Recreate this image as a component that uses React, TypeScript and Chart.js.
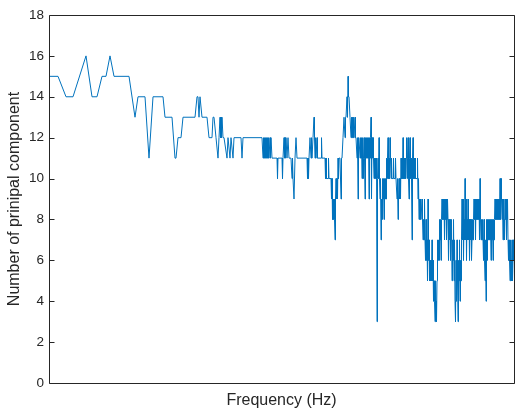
import React, { useEffect, useRef } from "react";
import { Chart, registerables } from "chart.js";

Chart.register(...registerables);

// ---- data (frequency position in arbitrary bin units, count of principal components) ----
const bandAFreq = [
  0, 9, 17, 24, 37, 43, 48, 53, 57, 61,
  65, 80, 86, 89, 96, 100, 104, 114, 116, 123,
  126, 127, 129, 132, 134, 146, 148, 149, 150, 151,
  153, 158, 160, 163, 164, 165, 167, 169, 170, 171,
  171.5, 172, 172.5, 173, 174, 175, 178, 179, 181, 182,
  184, 185, 192, 193, 194, 213,
];
const bandACount = [
  15, 15, 14, 14, 16, 14, 14, 15, 15, 16,
  15, 15, 13, 14, 14, 11, 14, 14, 13, 13,
  11, 11, 12, 12, 13, 13, 14, 14, 13, 14,
  13, 13, 12, 12, 13, 13, 12, 11, 12, 13,
  12, 13, 12, 13, 12, 12, 11, 12, 11, 12,
  11, 12, 12, 11, 12, 12,
];

const bandBFreq = [
  214, 214.5, 215, 215.5, 216, 216.5, 217, 217.5, 218, 218.5,
  219, 219.5, 220, 221, 221.5, 222, 223, 228, 228.5, 229,
  233, 233.5, 234, 235, 235.5, 236, 236.5, 237, 238, 239, 240,
];
const bandBCount = [
  11, 12, 11, 12, 11, 12, 11, 12, 11, 12,
  11, 12, 11, 12, 11, 12, 11, 11, 10, 11,
  11, 10, 11, 12, 11, 12, 11, 12, 11, 12, 11,
];

const bandCFreq = [
  242, 243, 243.5, 244, 245, 246, 247, 248, 258, 258.5,
  259, 259.5, 260, 261, 262, 262.5, 263, 264, 265, 265.5,
  266, 266.5, 267, 268, 268.5, 272, 272.5, 273, 276, 276.5,
  277, 277.5, 279, 279.5, 280, 282, 282.5, 283, 283.5, 284,
  284.5, 285, 285.5, 286, 286.5, 287, 287.5, 288, 288.5, 289,
  289.5, 290, 291, 292, 292.5, 293, 294, 295, 296, 296.5,
  297, 298, 298.5, 299, 299.5, 300, 301, 302, 302.5, 303,
  303.5, 304, 304.5, 305, 306, 306.5, 307, 308, 308.5, 309,
  309.5, 310,
];
const bandCCount = [
  11, 10, 11, 10, 9, 11, 12, 11, 11, 10,
  11, 10, 11, 12, 11, 12, 11, 12, 13, 12,
  11, 12, 11, 12, 11, 11, 12, 11, 11, 10,
  11, 10, 10, 11, 10, 10, 9, 10, 8, 9,
  8, 9, 8, 7, 9, 10, 9, 10, 9, 11,
  10, 11, 11, 9, 11, 11, 12, 13, 12, 13,
  13, 14, 13, 15, 14, 14, 13, 12, 13, 12,
  13, 12, 13, 12, 13, 12, 12, 11, 12, 9,
  12, 12,
];

const bandDFreq = [
  311, 311.5, 312, 312.5, 313, 313.5, 314, 314.5, 315, 315.5,
  316, 316.5, 317, 317.5, 318, 318.5, 319, 319.5, 320, 320.5,
  321, 321.5, 322, 322.5, 323, 323.5, 324, 324.5, 325, 325.5,
  326, 326.5, 327, 327.5, 328, 328.5, 329, 329.5, 330, 330.5,
  331, 331.5, 332, 332.5, 333, 333.5, 334, 334.5, 335, 335.5,
  336, 336.5, 337, 337.5, 338, 338.5, 339, 339.5, 340, 340.5,
  341, 341.5, 342, 342.5, 343, 344, 344.5, 345, 346, 346.5,
  347, 348, 348.5, 349, 349.5, 350, 350.5, 351, 351.5, 352,
  352.5, 353, 353.5, 354, 354.5, 355, 355.5, 356, 356.5, 357,
  357.5, 358, 358.5, 359, 359.5, 360, 360.5, 361, 361.5, 362,
  362.5, 363, 363.5, 364, 364.5, 365, 365.5, 366,
];
const bandDCount = [
  11, 12, 11, 12, 10, 12, 10, 11, 12, 11,
  9, 12, 11, 12, 11, 12, 11, 12, 9, 12,
  11, 12, 13, 9, 12, 11, 12, 11, 10, 11,
  10, 11, 10, 11, 3, 10, 11, 10, 12, 10,
  9, 10, 7, 9, 8, 10, 9, 10, 8, 10,
  9, 10, 9, 11, 10, 11, 12, 10, 11, 10,
  12, 11, 10, 11, 10, 10, 11, 10, 10, 11,
  10, 9, 10, 8, 9, 10, 9, 10, 9, 11,
  10, 11, 10, 12, 10, 11, 10, 11, 10, 11,
  12, 10, 11, 12, 10, 9, 11, 12, 10, 11,
  10, 7, 11, 12, 10, 11, 10, 11,
];

const bandEFreq = [
  366.5, 367, 368, 368.5, 369, 369.5, 370, 370.5, 371, 371.5,
  372, 372.5, 373, 373.5, 374, 374.5, 375, 375.5, 376, 376.5,
  377, 377.5, 378, 378.5, 379, 379.5, 380, 380.5, 381, 381.5,
  382, 382.5, 383, 383.5, 384, 384.5, 385, 385.5, 386, 386.5,
  387, 387.5, 388, 388.5, 389, 389.5, 390, 390.5, 391, 391.5,
  392, 392.5, 393, 393.5, 394, 394.5, 395, 395.5, 396, 396.5,
  397, 397.5, 398, 398.5, 399, 399.5, 400, 400.5, 401, 401.5,
  402, 402.5, 403, 403.5, 404, 404.5, 405, 405.5, 406, 406.5,
  407, 407.5, 408, 408.5, 409, 409.5, 410, 410.5, 411, 411.5,
  412, 412.5, 413,
];
const bandECount = [
  10, 10, 10, 11, 9, 10, 8, 9, 8, 9,
  8, 8, 9, 8, 7, 8, 7, 9, 7, 6,
  8, 6, 7, 5, 9, 6, 7, 5, 6, 5,
  6, 5, 7, 5, 6, 4, 5, 4, 3, 5,
  4, 3, 5, 7, 6, 7, 6, 8, 7, 8,
  6, 8, 9, 8, 9, 8, 9, 7, 9, 8,
  9, 7, 8, 9, 8, 6, 8, 7, 8, 6,
  7, 8, 5, 7, 6, 8, 5, 7, 4, 3,
  6, 4, 7, 5, 3, 6, 5, 7, 4, 6,
  5, 7, 9,
];

const bandFFreq = [
  413.5, 414, 414.5, 415, 415.5, 416, 416.5, 417, 417.5, 418,
  418.5, 419, 419.5, 420, 420.5, 421, 421.5, 422, 422.5, 423,
  423.5, 424, 424.5, 425, 425.5, 426, 426.5, 427, 427.5, 428,
  428.5, 429, 429.5, 430, 430.5, 431, 431.5, 432, 432.5, 433,
  433.5, 434, 434.5, 435, 435.5, 436, 436.5, 437, 437.5, 438,
  438.5, 439, 439.5, 440, 440.5, 441, 441.5, 442, 442.5, 443,
  443.5, 444, 444.5, 445, 445.5, 446, 446.5, 447, 447.5, 448,
  448.5, 449, 449.5, 450, 450.5, 451, 451.5, 452, 452.5, 453,
  453.5, 454, 454.5, 455, 455.5, 456, 456.5, 457, 457.5, 458,
  458.5, 459, 459.5, 460, 460.5, 461, 461.5, 462, 462.5, 463,
  463.5, 464, 464.5, 465,
];
const bandFCount = [
  7, 9, 6, 8, 7, 10, 7, 9, 6, 8,
  7, 9, 7, 8, 6, 8, 7, 8, 6, 7,
  8, 7, 8, 9, 8, 9, 7, 9, 8, 9,
  8, 9, 8, 9, 7, 10, 8, 7, 8, 7,
  8, 7, 6, 8, 6, 5, 7, 4, 8, 6,
  8, 7, 8, 7, 8, 7, 8, 6, 8, 7,
  8, 6, 8, 7, 8, 9, 8, 9, 8, 9,
  8, 9, 8, 9, 8, 10, 8, 10, 9, 8,
  9, 7, 9, 8, 7, 9, 8, 9, 7, 8,
  9, 7, 6, 7, 6, 5, 7, 6, 5, 7,
  5, 6, 7, 7,
];

const yTickValues = [0, 2, 4, 6, 8, 10, 12, 14, 16, 18];
const xAxisLabel = "Frequency (Hz)";
const yAxisLabel = "Number of prinipal component";

const AXIS_COLOR = "#262626";
const LINE_COLOR = "#0072BD";
const FONT = "'Liberation Sans', Arial, Helvetica, sans-serif";

const allFreq = [...bandAFreq, ...bandBFreq, ...bandCFreq, ...bandDFreq, ...bandEFreq, ...bandFFreq];
const allCount = [...bandACount, ...bandBCount, ...bandCCount, ...bandDCount, ...bandECount, ...bandFCount];

const boxPlugin = {
  id: "matlabBox",
  afterDatasetsDraw(chart: any) {
    const { ctx, chartArea } = chart;
    const { left, right, top, bottom } = chartArea;
    const yScale = chart.scales.y;
    const L = Math.round(left) + 0.5;
    const R = Math.round(right) + 0.5;
    const T = Math.round(top) + 0.5;
    const B = Math.round(bottom) + 0.5;
    ctx.save();
    ctx.strokeStyle = AXIS_COLOR;
    ctx.lineWidth = 1;
    ctx.beginPath();
    ctx.moveTo(L, T);
    ctx.lineTo(R, T);
    ctx.lineTo(R, B);
    ctx.lineTo(L, B);
    ctx.closePath();
    ctx.stroke();
    ctx.beginPath();
    const tickLen = 5;
    for (const v of yTickValues) {
      const py = Math.round(yScale.getPixelForValue(v)) + 0.5;
      ctx.moveTo(L, py);
      ctx.lineTo(L + tickLen, py);
      ctx.moveTo(R, py);
      ctx.lineTo(R - tickLen, py);
    }
    ctx.stroke();
    ctx.restore();
  },
};

export default function App() {
  const canvasRef = useRef<HTMLCanvasElement | null>(null);

  useEffect(() => {
    document.body.style.margin = "0";
    const canvas = canvasRef.current;
    if (!canvas) return;
    const points = allFreq.map((f, i) => ({ x: f, y: allCount[i] }));
    const chart = new Chart(canvas, {
      type: "line",
      data: {
        datasets: [
          {
            data: points,
            borderColor: LINE_COLOR,
            borderWidth: 1,
            pointRadius: 0,
            fill: false,
            tension: 0,
          },
        ],
      },
      options: {
        animation: false,
        responsive: false,
        devicePixelRatio: 1,
        events: [],
        layout: { padding: { top: 15, right: 1, bottom: 0, left: 0 } },
        plugins: { legend: { display: false }, tooltip: { enabled: false } },
        scales: {
          x: {
            type: "linear",
            min: 0,
            max: 465,
            grid: { display: false },
            border: { display: false },
            ticks: { display: false },
            title: {
              display: true,
              text: xAxisLabel,
              color: AXIS_COLOR,
              font: { family: FONT, size: 16 },
              padding: { top: 0, bottom: 0 },
            },
            afterFit: (s: any) => {
              s.height = 27;
            },
          },
          y: {
            type: "linear",
            min: 0,
            max: 18,
            grid: { display: false, drawTicks: false },
            border: { display: false },
            afterBuildTicks: (s: any) => {
              s.ticks = yTickValues.map((v) => ({ value: v }));
            },
            ticks: {
              color: AXIS_COLOR,
              font: { family: FONT, size: 13.5 },
              padding: 5,
            },
            title: {
              display: true,
              text: yAxisLabel,
              color: AXIS_COLOR,
              font: { family: FONT, size: 16 },
              padding: { top: 5, bottom: 0 },
            },
            afterFit: (s: any) => {
              s.width = 49;
            },
          },
        },
      },
      plugins: [boxPlugin],
    });
    return () => chart.destroy();
  }, []);

  return (
    <div style={{ position: "absolute", left: 0, top: 0, width: 515, height: 410 }}>
      <canvas ref={canvasRef} width={515} height={410} style={{ width: 515, height: 410 }} />
    </div>
  );
}
